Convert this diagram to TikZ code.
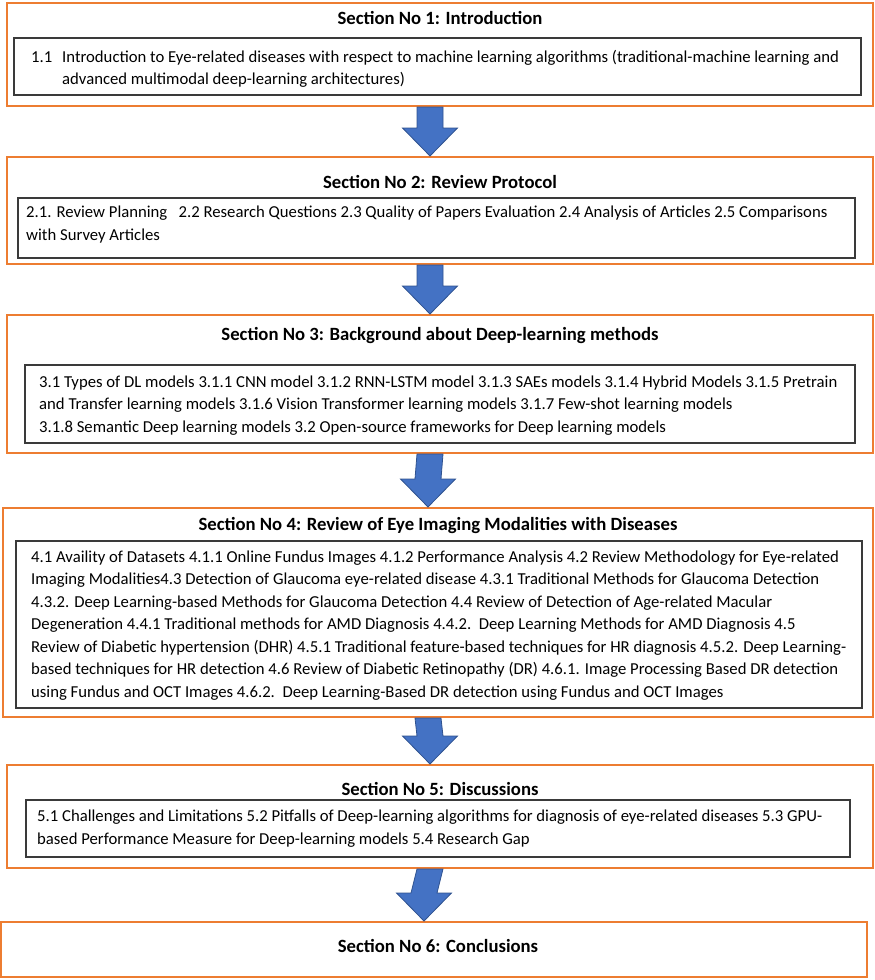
\documentclass[tikz,border=0pt]{standalone}
\usepackage{fontspec}
\setmainfont{Carlito}
\usetikzlibrary{calc}
\definecolor{orng}{HTML}{ED7D31}
\definecolor{blu}{HTML}{4472C4}
\definecolor{bluedge}{HTML}{2F528F}
\definecolor{inner}{HTML}{3A3A3A}
\newcommand{\bigarrow}[2]{%
  \filldraw[arrowstyle]
    ($(#1.south)+(-23,0)$) -- ($(#2.north)+(-23,-28)$) -- ($(#2.north)+(-37.5,-28)$)
    -- ($(#2.north)+(-10,0)$) -- ($(#2.north)+(17.5,-28)$) -- ($(#2.north)+(3,-28)$)
    -- ($(#1.south)+(3,0)$) -- cycle;}
\begin{document}
\begin{tikzpicture}[x=1pt,y=-1pt,
  obox/.style={draw=orng,line width=2pt,minimum width=#1,inner sep=0pt},
  ibox/.style={draw=inner,line width=1.1pt,inner sep=0pt},
  title/.style={font=\fontsize{18.7}{22}\selectfont\bfseries,anchor=center,inner sep=0pt},
  body/.style={font=\fontsize{16.7}{22.5}\selectfont,align=left,anchor=west,inner sep=0pt},
  arrowstyle/.style={fill=blu,draw=bluedge,line width=0.8pt,line join=miter}]
\useasboundingbox (0,0) rectangle (875,980);
% Section 1
\node[obox=866pt,minimum height=103pt] (s1) at (440,54.5) {};
\node[title] (t1) at (440,18) {Section No 1: Introduction};
\node[ibox,minimum width=847pt,minimum height=57pt] (i1) at (437.5,66.5) {};
\node[body] (b1) at (31,69) {\makebox[31pt][l]{1.1}Introduction to Eye-related diseases with respect to machine learning algorithms (traditional-machine learning and\\\hspace*{31pt}advanced multimodal deep-learning architectures)};
% Section 2
\node[obox=866pt,minimum height=107pt] (s2) at (440,210.5) {};
\node[title] (t2) at (440,182) {Section No 2: Review Protocol};
\node[ibox,minimum width=837pt,minimum height=60pt] (i2) at (436.5,228) {};
\node[body] (b2) at (26,224.5) {2.1. Review Planning\ \ \ 2.2 Research Questions 2.3 Quality of Papers Evaluation 2.4 Analysis of Articles 2.5 Comparisons\\with Survey Articles};
% Section 3
\node[obox=866pt,minimum height=138pt] (s3) at (440,384) {};
\node[title] (t3) at (440,336) {Section No 3: Background about Deep-learning methods};
\node[ibox,minimum width=830pt,minimum height=78pt] (i3) at (440,404) {};
\node[body] (b3) at (39,405.5) {3.1 Types of DL models 3.1.1 CNN model 3.1.2 RNN-LSTM model 3.1.3 SAEs models 3.1.4 Hybrid Models 3.1.5 Pretrain\\and Transfer learning models 3.1.6 Vision Transformer learning models 3.1.7 Few-shot learning models\\3.1.8 Semantic Deep learning models 3.2 Open-source frameworks for Deep learning models};
% Section 4
\node[obox=870pt,minimum height=209pt] (s4) at (438,612.5) {};
\node[title] (t4) at (438,526) {Section No 4: Review of Eye Imaging Modalities with Diseases};
\node[ibox,minimum width=846pt,minimum height=167pt] (i4) at (439,624.5) {};
\node[body] (b4) at (31,625.5) {4.1 Availity of Datasets 4.1.1 Online Fundus Images 4.1.2 Performance Analysis 4.2 Review Methodology for Eye-related\\Imaging Modalities4.3 Detection of Glaucoma eye-related disease 4.3.1 Traditional Methods for Glaucoma Detection\\4.3.2. Deep Learning-based Methods for Glaucoma Detection 4.4 Review of Detection of Age-related Macular\\Degeneration 4.4.1 Traditional methods for AMD Diagnosis 4.4.2.\ \ Deep Learning Methods for AMD Diagnosis 4.5\\Review of Diabetic hypertension (DHR) 4.5.1 Traditional feature-based techniques for HR diagnosis 4.5.2. Deep Learning-\\based techniques for HR detection 4.6 Review of Diabetic Retinopathy (DR) 4.6.1. Image Processing Based DR detection\\using Fundus and OCT Images 4.6.2.\ \ Deep Learning-Based DR detection using Fundus and OCT Images};
% Section 5
\node[obox=866pt,minimum height=103pt] (s5) at (440,816.5) {};
\node[title] (t5) at (440,789) {Section No 5: Discussions};
\node[ibox,minimum width=824pt,minimum height=57pt] (i5) at (438,828.5) {};
\node[body] (b5) at (37,828.5) {5.1 Challenges and Limitations 5.2 Pitfalls of Deep-learning algorithms for diagnosis of eye-related diseases 5.3 GPU-\\based Performance Measure for Deep-learning models 5.4 Research Gap};
% Section 6
\node[obox=866pt,minimum height=55pt] (s6) at (434,949.5) {};
\node[title] (t6) at (438,946) {Section No 6: Conclusions};
% Arrows
\bigarrow{s1}{s2}
\bigarrow{s2}{s3}
\bigarrow{s3}{s4}
\bigarrow{s4}{s5}
\bigarrow{s5}{s6}
\end{tikzpicture}
\end{document}
